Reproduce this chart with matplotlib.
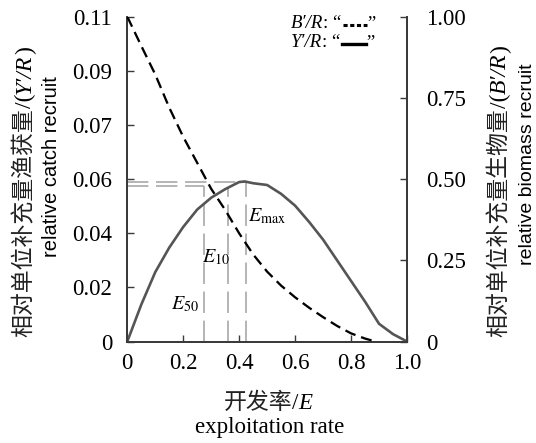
import numpy as np
import matplotlib
matplotlib.use("Agg")
import matplotlib.pyplot as plt
from matplotlib.lines import Line2D
from matplotlib.transforms import IdentityTransform

plt.rcParams['mathtext.fontset'] = 'stix'
plt.rcParams['font.family'] = ['Liberation Serif', 'Noto Sans CJK SC', 'DejaVu Sans']

# relative yield per recruit Y'/R (left axis)
E_y = [0, 0.05, 0.1, 0.15, 0.2, 0.25, 0.3, 0.35, 0.4, 0.42, 0.45, 0.5,
       0.55, 0.6, 0.65, 0.7, 0.75, 0.8, 0.85, 0.9, 0.95, 1.0]
yr = [0, 0.0125, 0.0235, 0.0318, 0.0388, 0.0447, 0.0487, 0.0516, 0.054, 0.0542,
      0.0536, 0.053, 0.050, 0.046, 0.0405, 0.0345, 0.0275, 0.0205, 0.0135,
      0.006, 0.0025, 0]

# relative biomass per recruit B'/R (right axis)
E_b = [0, 0.05, 0.1, 0.15, 0.2, 0.25, 0.3, 0.35, 0.4, 0.45, 0.5, 0.55,
       0.6, 0.65, 0.7, 0.75, 0.8, 0.85, 0.875]
br = [1.0, 0.91, 0.822, 0.72, 0.63, 0.55, 0.47, 0.405, 0.333, 0.268, 0.215,
      0.172, 0.136, 0.104, 0.075, 0.048, 0.025, 0.009, 0.003]

# reference points
E50, E10, Emax = 0.275, 0.361, 0.423
y_e50, y_e10, y_emax = 0.0528, 0.0519, 0.0541

x_ticks = [0, 0.2, 0.4, 0.6, 0.8, 1.0]
x_tick_labels = ['0', '0.2', '0.4', '0.6', '0.8', '1.0']
left_ticks = np.linspace(0, 0.11, 7)
left_tick_labels = ['0', '0.02', '0.04', '0.06', '0.07', '0.09', '0.11']
right_ticks = [0, 0.25, 0.5, 0.75, 1.0]
right_tick_labels = ['0', '0.25', '0.50', '0.75', '1.00']

W, H = 536, 443
fig = plt.figure(figsize=(W / 100, H / 100), dpi=100)
ax = fig.add_axes([127.3 / W, 1 - 341.5 / H, 279.7 / W, 324.8 / H])
ax2 = ax.twinx()

spine_c = '#3a3a3a'
for a in (ax, ax2):
    a.spines['top'].set_visible(False)
    for s in a.spines.values():
        s.set_color(spine_c)
        s.set_linewidth(1.3)

helper = dict(color='#a0a0a0', lw=1.1, dashes=(14, 5), zorder=1)
ax.plot([0, Emax], [y_emax, y_emax], **helper)
ax.plot([0, E50], [y_e50, y_e50], **helper)
ax.plot([E50, E50], [0, y_e50], **helper)
ax.plot([E10, E10], [0, y_e10], **helper)
ax.plot([Emax, Emax], [0, y_emax], **helper)

ax.plot(E_y, yr, color='#555555', lw=1.9, zorder=3)
ax2.plot(E_b, br, color='black', lw=1.65, dashes=(4.8, 2.6), zorder=3)

ax.set_xlim(0, 1)
ax.set_ylim(0, 0.11)
ax2.set_ylim(0, 1)
ax.set_xticks(x_ticks)
ax.set_xticklabels(x_tick_labels)
ax.set_yticks(left_ticks)
ax.set_yticklabels(left_tick_labels)
ax2.set_yticks(right_ticks)
ax2.set_yticklabels(right_tick_labels)

ax.tick_params(axis='x', direction='in', length=5, width=1, color=spine_c,
               labelsize=16.5, pad=8.5)
ax.tick_params(axis='y', direction='in', length=5, width=1, color=spine_c,
               labelsize=16.5, pad=11)
ax2.tick_params(axis='y', direction='in', length=5, width=1, color=spine_c,
                labelsize=16.5, pad=13.5)

ax.text(0.206, 0.0124, r'$E_{50}$', fontsize=14.5, ha='center', va='center')
ax.text(0.317, 0.0283, r'$E_{10}$', fontsize=14.5, ha='center', va='center')
ax.text(0.50, 0.0422, r'$E_{\max}$', fontsize=14.5, ha='center', va='center')

renderer = fig.canvas.get_renderer()
ident = IdentityTransform()


def chain(parts, x, y, rotation=0):
    # place text pieces one after another (pixel coords, y from top)
    px, py = x, H - y
    for s, kw in parts:
        t = fig.text(px, py, s, transform=ident, rotation=rotation,
                     rotation_mode='anchor', ha='left', va='baseline', **kw)
        bb = t.get_window_extent(renderer)
        if rotation == 90:
            py = bb.y1
        else:
            px = bb.x1
    return px, py


def chain_width(parts):
    total = 0
    for s, kw in parts:
        t = fig.text(0, 0, s, transform=ident, **kw)
        total += t.get_window_extent(renderer).width
        t.remove()
    return total


cjk = dict(family='Noto Sans CJK SC', fontsize=16.5, color='#222222')
ser = dict(fontsize=17)
ital = dict(fontsize=17, style='italic')
sans = dict(family='Liberation Sans', fontsize=14.5)

chain([('相对单位补充量渔获量', cjk), ('/(', ser), ('Y\u2032/R', ital), (')', ser)],
      31, 337, rotation=90)
chain([('相对单位补充量生物量', cjk), ('/(', ser), ('B\u2032/R', ital), (')', ser)],
      506, 337, rotation=90)
fig.text(52 / W, 1 - 167 / H, 'relative catch recruit', rotation=90,
         ha='center', va='center', **sans)
fig.text(528 / W, 1 - 164 / H, 'relative biomass recruit', rotation=90,
         ha='center', va='center', family='Liberation Sans', fontsize=14)

xparts = [('开发率', cjk), ('/', dict(fontsize=16.5)),
          ('E', dict(fontsize=16.5, style='italic'))]
chain(xparts, 268 - chain_width(xparts) / 2, 409)
fig.text(270 / W, 1 - 427 / H, 'exploitation rate', ha='center', va='center',
         fontsize=16.5)

# legend with drawn samples
leg = [('B\u2032/R', 28.5, 25, (1.35, 0.85), 2.2),
       ('Y\u2032/R', 47, 43.5, None, 2.4)]
for s, base, ly, dsh, lw in leg:
    x1, _ = chain([(s, dict(fontsize=13.5, style='italic')),
                   (': \u201c', dict(fontsize=13.5))], 291, base)
    ln = Line2D([x1 + 1, x1 + 25], [H - ly, H - ly], transform=ident,
                color='black', lw=lw)
    if dsh:
        ln.set_dashes(dsh)
    fig.add_artist(ln)
    fig.text(x1 + 26, H - base, '\u201d', transform=ident, fontsize=13.5,
             ha='left', va='baseline')

fig.savefig('out.png', dpi=100)
